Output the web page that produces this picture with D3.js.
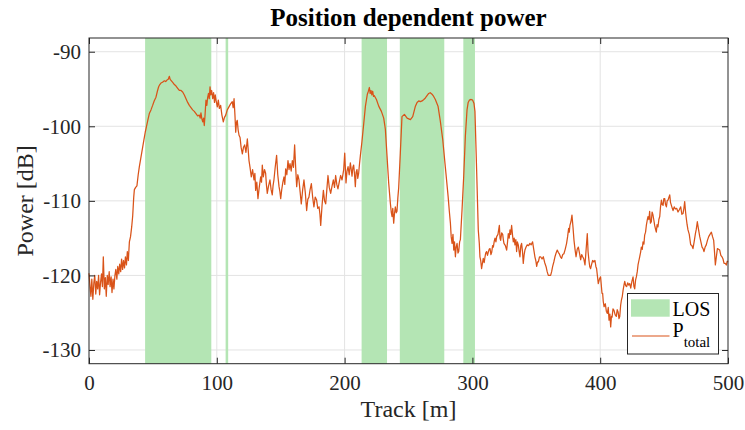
<!DOCTYPE html>
<html><head><meta charset="utf-8">
<script src="https://cdn.jsdelivr.net/npm/d3@7"></script>
<style>body{margin:0;background:#fff}svg{display:block}</style>
</head><body><svg id="c" width="745" height="430"></svg>
<script>
const titleText = "Position dependent power";
const xLabel = "Track [m]";
const yLabel = "Power [dB]";
const xTicks = [0, 100, 200, 300, 400, 500];
const yTicks = [-130, -120, -110, -100, -90];
const losBands = [[43.9, 95.7], [106.9, 108.9], [213.3, 233.2], [243.2, 278], [292.9, 302]];
// [track m, power dB]
const powerTrace = [
[0,-119.7],[0.8,-121.5],[1.5,-122.8],[2.2,-120.5],[3,-123.2],[3.8,-121],[4.5,-120],[5.3,-122.5],[6,-120.8],[6.8,-121.8],
[7.5,-120],[8.3,-122.6],[9,-121],[9.8,-119.8],[10.5,-121.5],[11.2,-117.5],[12,-121.8],[12.8,-120.3],[13.5,-122.8],[14.3,-120],
[15,-121.2],[15.8,-119.5],[16.5,-121.5],[17.3,-120.2],[18,-122.3],[18.8,-120.5],[19.5,-121.8],[20.3,-120],[21,-119.2],[21.8,-120.5],
[22.5,-118.8],[23.3,-119.8],[24,-118.5],[24.8,-119.5],[25.5,-117.8],[26.3,-119.2],[27,-118],[27.8,-119],[28.5,-117.5],[29.3,-118.6],
[30,-116.8],[30.8,-118],[31.6,-115.5],[32.5,-114.8],[33.4,-113.5],[34.2,-112],[35,-109.5],[35.5,-108.5],[36.5,-108.2],[37.5,-108],
[38.5,-106.5],[39.4,-105.4],[40.5,-104.3],[42,-102.8],[43,-101.8],[44,-100.8],[45,-100],[46,-99.2],[47.2,-98.3],[48.5,-97.8],
[49.8,-97.2],[51,-96.6],[52.4,-96.1],[53.5,-95.3],[54.5,-94.7],[55.4,-94.4],[56.3,-94.2],[57.5,-94.1],[59,-93.9],[60,-94],
[61,-93.8],[62,-93.7],[62.9,-93.3],[63.5,-93.7],[64.5,-93.9],[65.5,-94.1],[66.8,-94.4],[68.1,-94.6],[69.4,-94.9],[70.7,-95.2],
[72,-95.2],[73.3,-95.4],[74.6,-95.8],[75.9,-96.3],[77.2,-96.8],[78.5,-97.2],[79.8,-97.5],[81.1,-97.8],[82.4,-98],[83.7,-98.3],
[85,-98.6],[86.3,-98.5],[87,-98.9],[87.6,-98.2],[88.3,-99],[89,-99.4],[89.6,-98.9],[90.2,-99.9],[90.8,-98.5],[91.5,-96.5],
[92.2,-97.2],[92.8,-96.2],[93.5,-95.6],[94.1,-96.3],[94.7,-94.7],[95.3,-95.8],[96,-95.2],[96.8,-96.3],[97.5,-95.5],[98.2,-96.8],
[98.8,-95.8],[99.4,-96.5],[100.4,-97.4],[101.2,-96.5],[102,-97.6],[103,-97.2],[104,-98.5],[105.1,-99.4],[106,-98.8],[107,-98.5],
[108.2,-97.8],[109.5,-97.4],[110.8,-97],[112.1,-96.7],[112.8,-97.5],[113.5,-96.3],[114.2,-98.5],[114.8,-100.8],[115.4,-99.5],[116,-99.2],
[116.7,-100.5],[117.4,-101.2],[118.2,-101.5],[119,-102.8],[120,-103.7],[120.9,-102.8],[121.8,-102.5],[122.8,-103.5],[123.9,-101.7],[124.5,-103],
[125.2,-104.6],[126,-105.5],[127,-106.8],[128,-105.8],[129.1,-107.2],[129.8,-106.3],[130.4,-108.6],[131.3,-107.5],[132.2,-109.7],[133.2,-108.2],
[134.3,-106.8],[135,-107.5],[135.6,-105.2],[136.4,-106.8],[137.3,-105.8],[138.2,-106.3],[138.8,-107.8],[139.5,-109],[140.5,-108],[141.6,-107.2],
[142.5,-108.5],[143.4,-109.2],[144,-108],[144.7,-107.2],[145.7,-105.5],[146.8,-103.9],[147.7,-106.5],[148.7,-108.1],[149.4,-108.8],[150,-109.7],
[150.8,-108.5],[151.7,-107.5],[152.6,-106.8],[153.2,-107.8],[153.9,-105.7],[154.8,-106.5],[155.7,-104.6],[156.5,-105.8],[157.3,-105],[158.2,-106],
[159.1,-104.6],[160,-105.5],[160.9,-102.5],[161.7,-105.5],[162.5,-108.1],[163.4,-106.5],[164.3,-107.2],[165.2,-108.8],[166.1,-110.4],[167.2,-108.5],
[168.2,-107.2],[169.3,-109],[170.3,-111.3],[171.2,-109.8],[172.1,-109.5],[173,-108.5],[174,-107.7],[175,-109.5],[176,-110.8],[177,-109.5],
[178.1,-109.9],[179,-111],[180,-110.8],[180.7,-111.8],[181.3,-113.3],[182.4,-110.5],[183.4,-108.6],[184.3,-110],[185.2,-110.4],[186.1,-108.5],
[187,-106.6],[188,-108.2],[189.1,-109],[190.2,-108],[191.2,-107.2],[192.1,-108.2],[193,-106.6],[193.9,-107.8],[194.8,-108.4],[195.8,-107.5],
[196.9,-106.6],[198,-107.2],[199.3,-105.8],[200.1,-103.6],[201.1,-107.6],[201.9,-106],[202.7,-105.4],[203.6,-106.5],[204.5,-104.9],[205.2,-105.8],
[205.8,-106.7],[206.5,-105.5],[207.1,-105.2],[207.8,-106.5],[208.4,-108.1],[209,-106.2],[209.7,-105.8],[210.3,-107],[211,-106.3],[211.7,-105],
[212.3,-104],[213.6,-102],[215,-99.6],[216.3,-97.3],[217.8,-95.7],[218.6,-95.3],[219.4,-94.8],[220,-95.6],[220.7,-95.2],[221.3,-95.8],
[222,-95.3],[222.6,-96],[223.3,-95.9],[224.9,-96.4],[226.7,-97.3],[228.8,-98],[230.6,-98.9],[231.9,-100.4],[233.2,-104],[234.5,-107.6],
[235.8,-110.3],[236.5,-111.5],[237.1,-112.1],[237.7,-111],[238.4,-113],[239,-111.8],[239.7,-110.8],[240.4,-111.6],[241,-111.4],[241.7,-109.5],
[242.3,-108.3],[243.6,-103.6],[244.9,-98.7],[246.8,-98.4],[248.9,-98.9],[251.5,-99.1],[253.3,-98.7],[255.4,-97.3],[256.7,-96.8],[258,-96.6],
[259.3,-96.7],[260.6,-96.6],[262,-96.4],[263.2,-96.2],[264.5,-95.9],[265.8,-95.6],[267,-95.5],[268.4,-95.7],[269.7,-96],[271,-96.4],
[273.1,-97.3],[274.9,-99.3],[276.8,-101.8],[278.9,-105.6],[281,-109.4],[282,-111.5],[282.8,-113],[283.4,-114.8],[284.1,-115.7],[284.8,-114.5],
[285.4,-116.6],[286,-115.5],[286.7,-117.5],[287.3,-116.2],[288,-115.7],[288.7,-117],[289.3,-116.8],[290,-115.5],[290.6,-115.2],[291.9,-111.2],
[293.2,-106.7],[294.5,-101.3],[295.8,-97.8],[296.7,-96.8],[297.6,-96.5],[299,-96.4],[300.2,-96.5],[301.2,-96.9],[302,-98],[303.3,-105.8],
[304.6,-113.9],[305.4,-115.7],[305.9,-117.5],[306.5,-118],[307.2,-119.1],[308,-118.2],[308.5,-117.7],[309.2,-118.3],[309.8,-117.6],[310.4,-117],
[311.1,-116.8],[311.8,-117.3],[312.4,-116.9],[313.1,-116.5],[313.8,-116.4],[314.5,-117.2],[315.1,-116.9],[315.8,-116],[316.4,-116.2],[317.1,-115.4],
[317.7,-115],[318.4,-115.5],[319,-114.8],[320,-114.5],[321.1,-113.3],[321.6,-115],[322.1,-115.3],[322.9,-114.3],[323.7,-114.5],[324.2,-115.2],
[324.7,-115.7],[325.8,-116],[326.8,-116.6],[327.5,-115.5],[328.1,-114.4],[328.8,-115],[329.4,-113.9],[330,-114.5],[330.7,-113.3],[331.4,-114.6],
[332,-115.5],[332.7,-115],[333.3,-115.9],[334,-115.2],[334.6,-116.8],[335.2,-115.5],[335.9,-115.9],[336.6,-116.8],[337.2,-117.5],[337.9,-116],
[338.5,-115.7],[339.2,-116.8],[339.8,-118.4],[340.5,-117.2],[341.1,-116.6],[342,-116.2],[342.9,-115.9],[344,-116],[345,-115.7],[346,-115.9],
[347.1,-115.5],[348,-116.5],[348.9,-117.5],[349.6,-118],[350.3,-118.8],[351,-118.2],[351.6,-118.2],[352.5,-117.5],[353.4,-117.5],[354.5,-117.8],
[355.5,-117.5],[356.6,-118.3],[357.6,-118.8],[358.5,-119.5],[359.4,-120],[360.3,-120],[361.2,-120],[362,-119.5],[362.8,-118.8],[363.7,-118.2],
[364.6,-117.5],[365.5,-117],[366.4,-116.6],[367.2,-116.9],[368,-117.1],[368.9,-117.5],[369.8,-117.7],[370.7,-117.2],[371.6,-117.1],[372.6,-116.5],
[373.7,-115.7],[374.5,-114.8],[375.3,-113.7],[375.8,-114.2],[376.3,-113.3],[377.1,-112.8],[377.9,-111.9],[378.7,-113.5],[379.5,-115.3],[380.3,-116.5],
[381.1,-117.5],[382,-116.5],[382.9,-116.2],[383.8,-117],[384.7,-117.9],[385.5,-117.2],[386.3,-117.5],[387.2,-117.8],[388.1,-118.6],[389,-116.5],
[389.9,-114.4],[390.5,-116.8],[391.2,-118],[391.8,-118.8],[392.5,-119.1],[393.3,-118.5],[394.1,-118],[395,-118.2],[395.9,-118],[396.6,-118.8],
[397.2,-119.1],[397.9,-120.2],[398.5,-121.1],[399.4,-120.5],[400.3,-120.2],[401.4,-122.4],[401.9,-122.4],[402.4,-123.5],[403,-124.2],[404,-123.8],
[404.8,-124.8],[405.6,-125.1],[406.3,-124.3],[406.9,-126],[407.6,-125.2],[408.2,-126.9],[408.8,-125.5],[409.3,-125.6],[410,-124.5],[410.8,-124.7],
[411.7,-125.3],[412.6,-125.5],[413.3,-124.6],[414,-124.9],[414.7,-125.8],[415.3,-125.5],[416,-124],[416.6,-123.3],[417.3,-122.8],[417.9,-122],
[418.6,-121.3],[419.2,-120.8],[420,-121.4],[420.7,-121.5],[421.5,-121],[422.3,-121.3],[423.1,-121.1],[423.9,-121.7],[424.8,-120.8],[425.7,-120.2],
[426.4,-121.5],[427,-121.8],[427.7,-120.6],[428.3,-120.2],[429,-119.5],[429.6,-118.6],[430.3,-118],[430.9,-117.5],[431.6,-116.9],[432.2,-116.2],
[432.9,-116.5],[433.5,-115.5],[434.2,-115.8],[434.8,-114.6],[435.5,-114.2],[436.1,-113.3],[436.8,-112.6],[437.4,-112.1],[438.1,-112.5],[438.7,-111.4],
[439.3,-113],[440,-112.8],[440.6,-111.5],[441.3,-111.9],[442,-112.6],[442.6,-113.3],[443.3,-113.8],[443.9,-114.2],[444.5,-113.2],[445.2,-113.5],
[445.9,-112.5],[446.6,-112.1],[447.2,-110.8],[447.9,-109.9],[448.5,-110.5],[449.2,-110.6],[449.8,-109.7],[450.5,-109.7],[451.1,-110.5],[451.8,-110.8],
[452.4,-110],[453.1,-109.9],[453.8,-109.5],[454.4,-109.2],[455,-110.2],[455.7,-110.6],[456.4,-111],[457,-111.3],[457.9,-110.8],[458.8,-111.1],
[459.8,-111],[460.9,-111.5],[461.9,-111.2],[463,-110.8],[463.9,-111.8],[464.8,-111.7],[465.5,-111],[466.1,-110.1],[466.8,-111.5],[467.4,-112.4],
[468,-113.2],[468.7,-113.9],[469.7,-114.5],[470.8,-115.9],[471.7,-116],[472.6,-116.4],[473.5,-115.5],[474.5,-114.4],[475.2,-113.8],[476,-112.8],
[476.9,-113.8],[477.9,-114.8],[478.8,-115.5],[479.7,-116.2],[480.5,-116.4],[481.2,-116.8],[482.1,-116.2],[483,-115.9],[483.9,-115.3],[484.9,-114.8],
[485.9,-114.5],[487,-114.2],[487.9,-114.8],[488.8,-115.3],[489.5,-117],[490.1,-118.6],[490.9,-117.5],[491.7,-116.4],[492.6,-116.5],[493.5,-116.6],
[494.4,-117.3],[495.3,-117.5],[496.1,-117.8],[496.9,-118.4],[497.8,-118.4],[498.7,-118.6],[499.4,-118.1],[500,-118.2]
];

const W = 745, H = 430;
const M = {l: 89, r: 728, t: 38, b: 363.7};
const FONT = "'Liberation Serif','Times New Roman',serif";
const svg = d3.select('#c');
const x = d3.scaleLinear().domain([0, 500]).range([M.l, M.r]);
const y = d3.scaleLinear().domain([-131.84, -88.16]).range([M.b, M.t]);

// grid
const grid = svg.append('g').attr('stroke', '#e3e3e3').attr('stroke-width', 1);
xTicks.filter(t => t > 0 && t < 500).forEach(t => grid.append('line')
  .attr('x1', x(t)).attr('x2', x(t)).attr('y1', M.t).attr('y2', M.b));
yTicks.forEach(t => grid.append('line')
  .attr('y1', y(t)).attr('y2', y(t)).attr('x1', M.l).attr('x2', M.r));

// LOS bands
svg.append('g').selectAll('rect').data(losBands).join('rect')
  .attr('x', d => x(d[0])).attr('width', d => x(d[1]) - x(d[0]))
  .attr('y', M.t).attr('height', M.b - M.t)
  .attr('fill', '#b4e5b4');

// line
svg.append('path').datum(powerTrace)
  .attr('fill', 'none').attr('stroke', '#d95319').attr('stroke-width', 1.25)
  .attr('stroke-linejoin', 'round')
  .attr('d', d3.line().x(d => x(d[0])).y(d => y(d[1])));

// axes
const axCol = '#262626';
function styleAxis(g, labels) {
  g.select('.domain').remove();
  g.selectAll('line').attr('stroke', axCol);
  g.selectAll('text').attr('font-family', FONT).attr('font-size', 21).attr('fill', axCol);
  if (!labels) g.selectAll('text').remove();
}
svg.append('g').attr('transform', `translate(0,${M.b})`)
  .call(d3.axisBottom(x).tickValues(xTicks).tickSize(-6).tickPadding(11).tickFormat(d3.format('d')))
  .call(g => styleAxis(g, true));
svg.append('g').attr('transform', `translate(0,${M.t})`)
  .call(d3.axisTop(x).tickValues(xTicks).tickSize(-6))
  .call(g => styleAxis(g, false));
svg.append('g').attr('transform', `translate(${M.l},0)`)
  .call(d3.axisLeft(y).tickValues(yTicks).tickSize(-6).tickPadding(8).tickFormat(d => d))
  .call(g => styleAxis(g, true));
svg.append('g').attr('transform', `translate(${M.r},0)`)
  .call(d3.axisRight(y).tickValues(yTicks).tickSize(-6))
  .call(g => styleAxis(g, false));
svg.append('rect').attr('x', M.l).attr('y', M.t).attr('width', M.r - M.l).attr('height', M.b - M.t)
  .attr('fill', 'none').attr('stroke', axCol).attr('stroke-width', 1);

// title and labels
svg.append('text').attr('x', (M.l + M.r) / 2).attr('y', 26).attr('text-anchor', 'middle')
  .attr('font-family', FONT).attr('font-weight', 'bold').attr('font-size', 25).attr('fill', '#000')
  .text(titleText);
svg.append('text').attr('x', (M.l + M.r) / 2).attr('y', 417).attr('text-anchor', 'middle')
  .attr('font-family', FONT).attr('font-size', 24).attr('fill', axCol).text(xLabel);
svg.append('text').attr('transform', `translate(33,${(M.t + M.b) / 2}) rotate(-90)`).attr('text-anchor', 'middle')
  .attr('font-family', FONT).attr('font-size', 24).attr('fill', axCol).text(yLabel);

// legend
const lg = svg.append('g');
lg.append('rect').attr('x', 627.5).attr('y', 293.5).attr('width', 91).attr('height', 60.5)
  .attr('fill', '#fff').attr('stroke', axCol).attr('stroke-width', 1);
lg.append('rect').attr('x', 631).attr('y', 299.3).attr('width', 38.7).attr('height', 17.4).attr('fill', '#b4e5b4');
lg.append('text').attr('x', 672.5).attr('y', 315.8).attr('font-family', FONT).attr('font-size', 20).attr('fill', '#000').text('LOS');
lg.append('line').attr('x1', 632).attr('x2', 669.5).attr('y1', 336).attr('y2', 336)
  .attr('stroke', '#d95319').attr('stroke-width', 1.1);
const pt = lg.append('text').attr('x', 672.5).attr('y', 336.8).attr('font-family', FONT).attr('font-size', 20).attr('fill', '#000');
pt.append('tspan').text('P');
pt.append('tspan').attr('font-size', 15).attr('dy', 10).text('total');
</script></body></html>
